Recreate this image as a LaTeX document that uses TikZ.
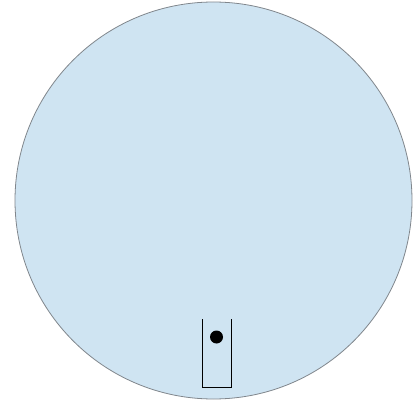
\documentclass[tikz,border=0pt]{standalone}
\definecolor{discfill}{RGB}{207,228,242}
\definecolor{discline}{RGB}{128,134,140}
\begin{document}
\begin{tikzpicture}[x=1pt,y=-1pt,
  disc/.style={fill=discfill,draw=discline,line width=0.8pt},
  cup/.style={draw=black,line width=0.9pt},
  ball/.style={circle,fill=black,inner sep=0pt,minimum size=13pt}]
\useasboundingbox (0,0) rectangle (415,401);
\fill[white] (0,0) rectangle (415,401);
\draw[disc] (213.5,200.5) circle (198.5);
\draw[cup] (202,319) -- (202,387) -- (231.5,387) -- (231.5,319);
\node[ball] (b) at (216.5,337) {};
\end{tikzpicture}
\end{document}
